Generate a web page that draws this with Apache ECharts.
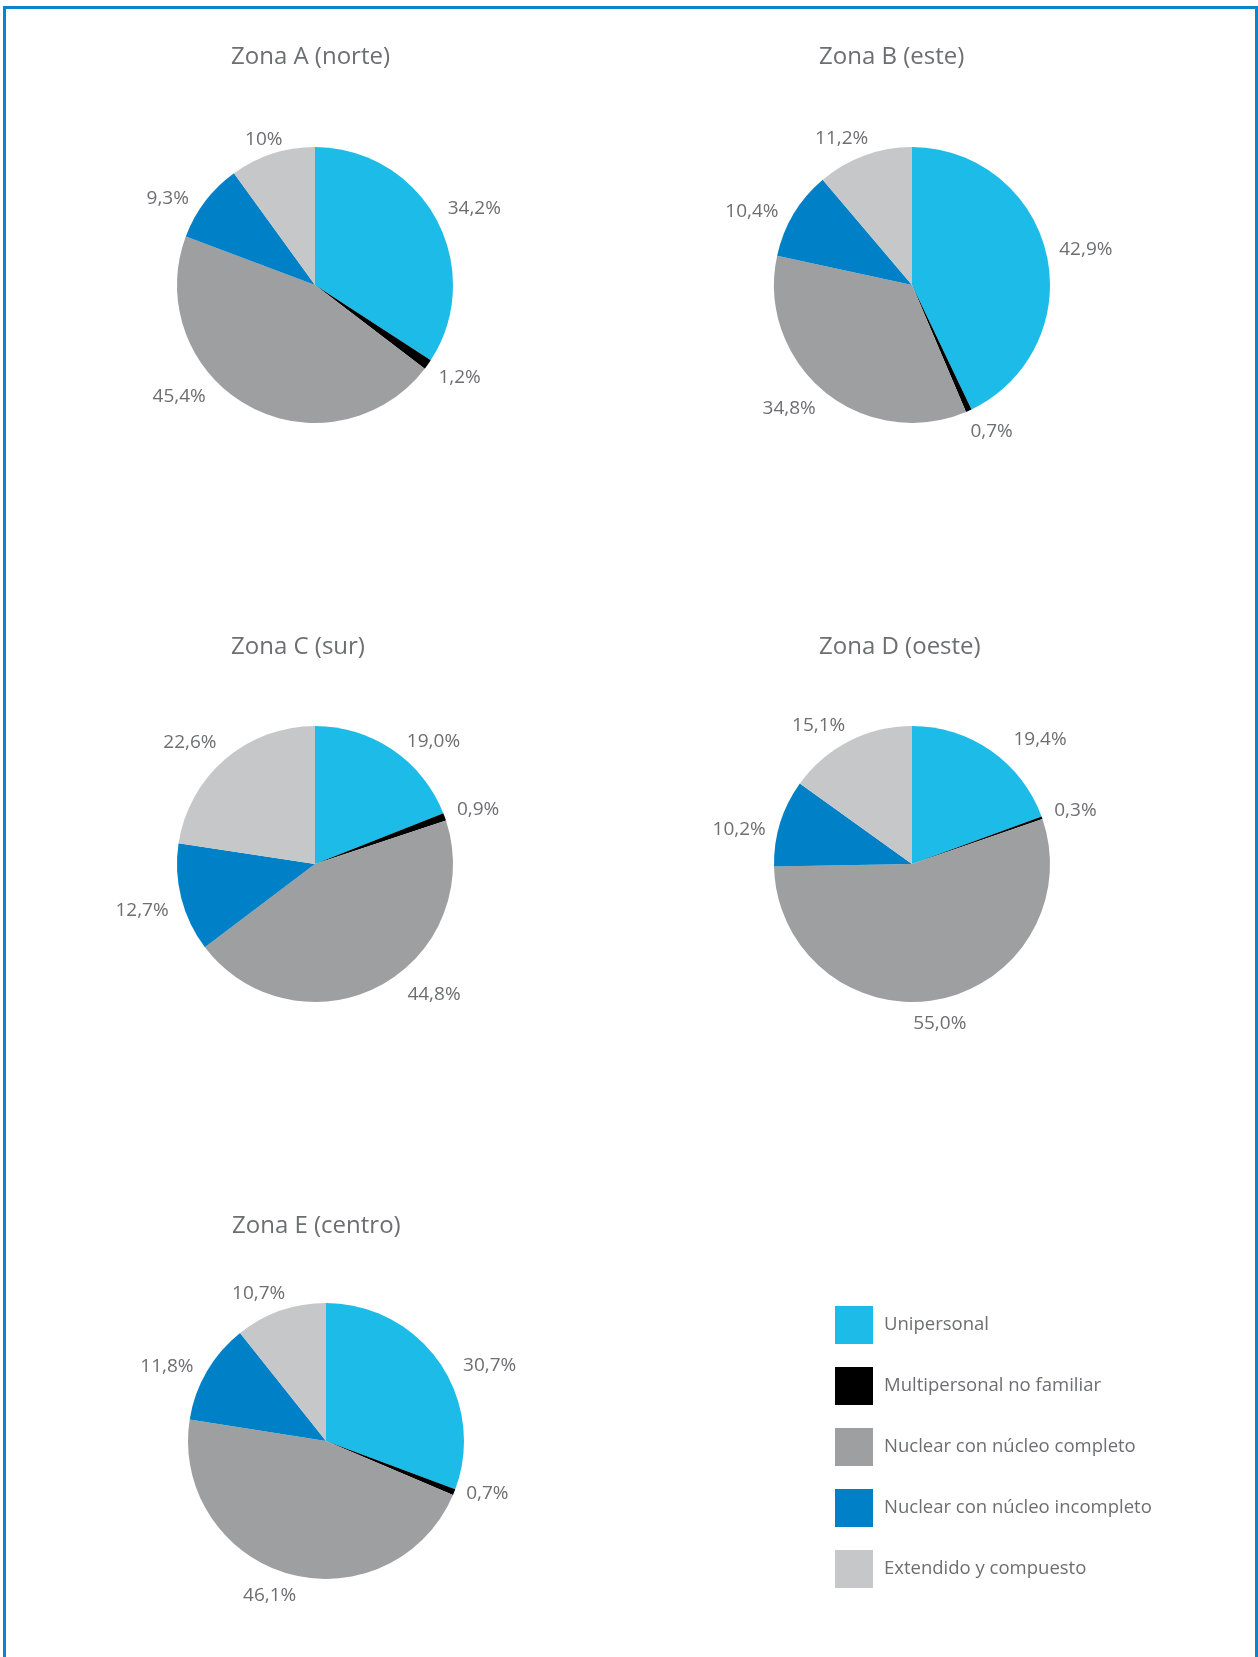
<!DOCTYPE html>
<html>
<head>
<meta charset="utf-8">
<script src="https://cdn.jsdelivr.net/npm/echarts@6/dist/echarts.min.js"></script>
<style>
  html, body { margin: 0; padding: 0; background: #fff; }
  #chart { width: 1258px; height: 1657px; }
</style>
</head>
<body>
<div id="chart"></div>
<script>
const categories = [
  'Unipersonal',
  'Multipersonal no familiar',
  'Nuclear con núcleo completo',
  'Nuclear con núcleo incompleto',
  'Extendido y compuesto'
]
const colors = ['#1cbbe8', '#000000', '#9e9fa1', '#0080c6', '#c6c7c9']

const zoneTitles = ['Zona A (norte)', 'Zona B (este)', 'Zona C (sur)', 'Zona D (oeste)', 'Zona E (centro)']

// porcentajes por zona, en el orden de categories
const valuesA = [34.2, 1.2, 45.4, 9.3, 10]
const valuesB = [42.9, 0.7, 34.8, 10.4, 11.2]
const valuesC = [19.0, 0.9, 44.8, 12.7, 22.6]
const valuesD = [19.4, 0.3, 55.0, 10.2, 15.1]
const valuesE = [30.7, 0.7, 46.1, 11.8, 10.7]

// etiquetas tal como aparecen
const labelsA = ['34,2%', '1,2%', '45,4%', '9,3%', '10%']
const labelsB = ['42,9%', '0,7%', '34,8%', '10,4%', '11,2%']
const labelsC = ['19,0%', '0,9%', '44,8%', '12,7%', '22,6%']
const labelsD = ['19,4%', '0,3%', '55,0%', '10,2%', '15,1%']
const labelsE = ['30,7%', '0,7%', '46,1%', '11,8%', '10,7%']

const R = 138
const LABEL_R = 148

const zones = [
  { values: valuesA, labels: labelsA, center: [315, 285], title: [231, 45] },
  { values: valuesB, labels: labelsB, center: [912, 285], title: [819, 45] },
  { values: valuesC, labels: labelsC, center: [315, 864], title: [231, 635] },
  { values: valuesD, labels: labelsD, center: [912, 864], title: [819, 635] },
  { values: valuesE, labels: labelsE, center: [326, 1441], title: [232, 1214] }
]

// algunas etiquetas estaban movidas a mano en el original
const nudges = {
  '0-2': [-37, -29], '0-3': [-6, 11], '0-4': [7, 7],
  '1-3': [-4, 9], '1-4': [0, 4],
  '2-0': [7, 10], '2-2': [24, -11], '2-3': [0, 7],
  '3-0': [15, 7], '3-2': [-8, 2], '3-3': [-2, 13], '3-4': [0, 4],
  '4-0': [13, 16], '4-1': [0, -7], '4-3': [-2, 6], '4-4': [0, 4]
}

const textColor = '#6d6e71'
const font = '"Open Sans", "Liberation Sans", sans-serif'
const clamp = v => Math.max(-1, Math.min(1, v))

const series = []
zones.forEach((z, i) => {
  series.push({
    type: 'pie',
    name: zoneTitles[i],
    center: z.center,
    radius: R,
    startAngle: 90,
    clockwise: true,
    silent: true,
    label: { show: false },
    labelLine: { show: false },
    data: z.values.map((v, k) => ({
      name: categories[k],
      value: v,
      itemStyle: { color: colors[k] }
    }))
  })
  // anillo transparente que solo sitúa las etiquetas sobre el ángulo medio
  series.push({
    type: 'pie',
    center: z.center,
    radius: [LABEL_R - 2, LABEL_R + 2],
    startAngle: 90,
    clockwise: true,
    silent: true,
    itemStyle: { color: 'transparent' },
    label: {
      show: true,
      position: 'inside',
      color: textColor,
      fontSize: 19,
      fontFamily: font,
      formatter: p => z.labels[p.dataIndex]
    },
    labelLine: { show: false },
    // empuja la caja de texto hacia fuera, como las etiquetas de Excel
    labelLayout: params => {
      const r = params.labelRect
      const mx = r.x + r.width / 2 - z.center[0]
      const my = r.y + r.height / 2 - z.center[1]
      const len = Math.hypot(mx, my) || 1
      const n = nudges[i + '-' + params.dataIndex] || [0, 0]
      return {
        dx: r.width / 2 * clamp(2 * mx / len) + n[0],
        dy: r.height / 2 * (my / len) + n[1]
      }
    },
    data: z.values.map((v, k) => ({ name: categories[k], value: v }))
  })
})

const chart = echarts.init(document.getElementById('chart'))
chart.setOption({
  animation: false,
  textStyle: { fontFamily: font },
  title: zones.map((z, i) => ({
    text: zoneTitles[i],
    left: z.title[0],
    top: z.title[1],
    padding: 0,
    textStyle: { color: textColor, fontSize: 24, fontWeight: 'normal', fontFamily: font }
  })),
  legend: {
    orient: 'vertical',
    left: 830,
    top: 1301,
    itemWidth: 38,
    itemHeight: 38,
    itemGap: 23,
    icon: 'rect',
    selectedMode: false,
    textStyle: { color: textColor, fontSize: 18.5, fontFamily: font, padding: [0, 0, 0, 6] },
    data: categories.map((c, k) => ({ name: c, itemStyle: { color: colors[k] } }))
  },
  graphic: [{
    type: 'rect',
    shape: { x: 4.5, y: 7.5, width: 1252, height: 1700 },
    style: { fill: 'none', stroke: '#0a84cc', lineWidth: 3 },
    silent: true
  }],
  series: series
})
</script>
</body>
</html>
